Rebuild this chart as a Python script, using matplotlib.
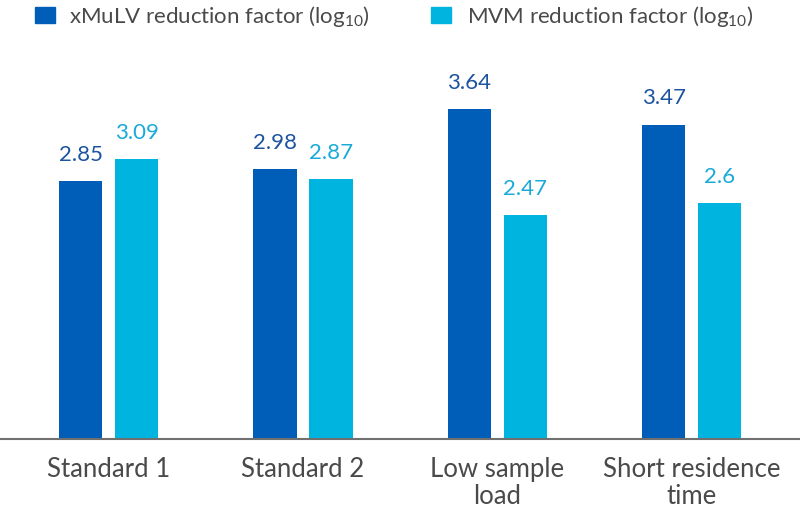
import matplotlib
matplotlib.use("Agg")
import matplotlib.pyplot as plt
from matplotlib.patches import Rectangle

categories = ["Standard 1", "Standard 2", "Low sample\nload", "Short residence\ntime"]
xmulv = [2.85, 2.98, 3.64, 3.47]
mvm = [3.09, 2.87, 2.47, 2.6]
series_names = ["xMuLV reduction factor (log$_{10}$)", "MVM reduction factor (log$_{10}$)"]

dark = "#005EB8"
light = "#00B4E0"
dark_txt = "#1C54A0"
light_txt = "#1AAAD9"
gray_txt = "#4A4A4A"

plt.rcParams['font.family'] = ['Lato', 'DejaVu Sans']
plt.rcParams['mathtext.fontset'] = 'custom'
plt.rcParams['mathtext.rm'] = 'Lato'
plt.rcParams['mathtext.it'] = 'Lato:italic'
plt.rcParams['mathtext.bf'] = 'Lato:bold'
plt.rcParams['mathtext.default'] = 'regular'

W, H = 800, 513
fig = plt.figure(figsize=(W/100, H/100), dpi=100)
base_px = 439
ymax = 4.5
ppu = 90.6
top_px = base_px - ymax * ppu
ax = fig.add_axes([0, 1 - base_px/H, 1, (base_px - top_px)/H])

spacing = 194.4
c0 = 108.5
xl = (0 - c0)/spacing
xr = (W - c0)/spacing
ax.set_xlim(xl, xr)
ax.set_ylim(0, ymax)

bw = 0.224
off = 0.144
x = list(range(len(categories)))
ax.bar([i - off for i in x], xmulv, width=bw, color=dark, zorder=2)
ax.bar([i + off for i in x], mvm, width=bw, color=light, zorder=2)

for i, v in enumerate(xmulv):
    ax.annotate(f"{v:g}", (i - off, v), xytext=(0, 14.5), textcoords="offset points",
                ha="center", va="baseline", fontsize=16, color=dark_txt)
for i, v in enumerate(mvm):
    ax.annotate(f"{v:g}", (i + off, v), xytext=(0, 14.5), textcoords="offset points",
                ha="center", va="baseline", fontsize=16, color=light_txt)

for s in ["top", "right", "left"]:
    ax.spines[s].set_visible(False)
ax.spines["bottom"].set_color("#707070")
ax.spines["bottom"].set_linewidth(1.5)
ax.set_yticks([])
ax.set_xticks(x)
ax.set_xticklabels(categories, fontsize=18.5, color=gray_txt, linespacing=1.1)
ax.tick_params(axis="x", length=0, pad=13)

# legend
fig.patches.append(Rectangle((35/W, 1 - 23/H), 20/W, 16/H, transform=fig.transFigure,
                             color=dark, figure=fig))
fig.text(69/W, 1 - 23/H, series_names[0], fontsize=16, color=gray_txt, va="baseline", ha="left")
fig.patches.append(Rectangle((431/W, 1 - 23/H), 20/W, 16/H, transform=fig.transFigure,
                             color=light, figure=fig))
fig.text(467/W, 1 - 23/H, series_names[1], fontsize=16, color=gray_txt, va="baseline", ha="left")

fig.savefig("out.png", dpi=100)
